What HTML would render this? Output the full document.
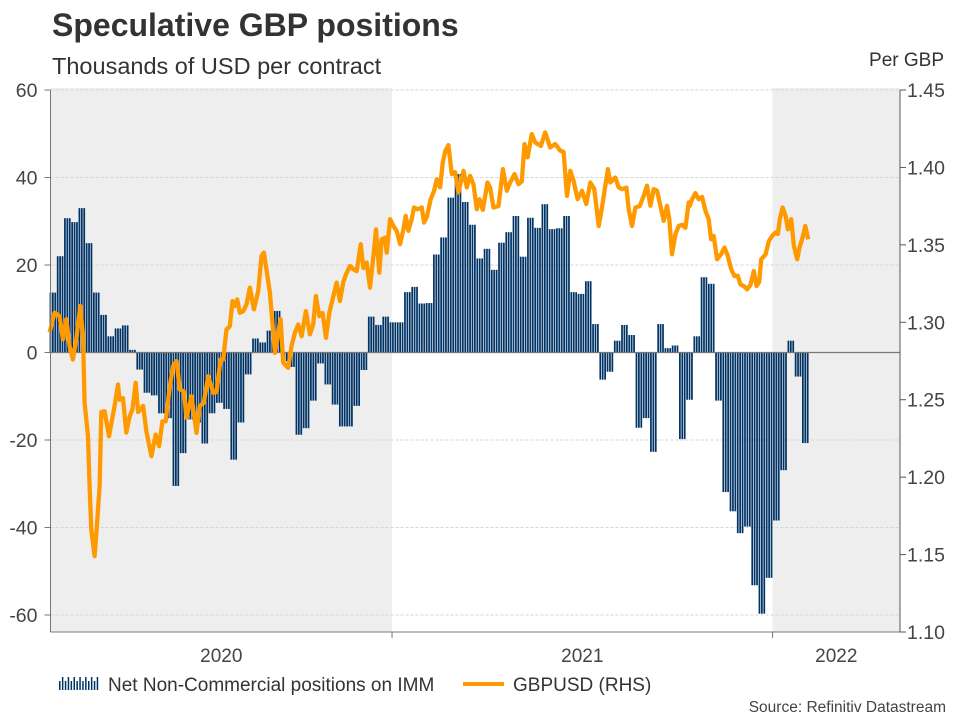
<!DOCTYPE html>
<html><head><meta charset="utf-8"><style>
body{margin:0;background:#fff;width:960px;height:720px;overflow:hidden;font-family:"Liberation Sans",Arial,sans-serif;}
svg text{font-family:"Liberation Sans",Arial,sans-serif;}
</style></head><body>
<svg id="chart" width="960" height="720" xmlns="http://www.w3.org/2000/svg">
<text x="52" y="36" font-size="32" font-weight="bold" fill="#333">Speculative GBP positions</text>
<text x="52" y="74" font-size="23.5" fill="#333">Thousands of USD per contract</text>
<text x="944" y="66" font-size="19" fill="#333" text-anchor="end">Per GBP</text>
<g id="plot"></g>
<g>
<g id="legicon"></g>
<text x="108" y="691" font-size="19" fill="#333">Net Non-Commercial positions on IMM</text>
<line x1="463" y1="684" x2="504" y2="684" stroke="#ff9900" stroke-width="4"/>
<text x="513" y="691" font-size="19" fill="#333">GBPUSD (RHS)</text>
</g>
<text x="946" y="712" font-size="15.5" fill="#444" text-anchor="end">Source: Refinitiv Datastream</text>
</svg>
<script>
// Weekly net positions (thousands USD per contract), first week ~Feb 7 2020
const posStartDay = 37.5;
const posWeekDays = 6.94;
const positions = [13.7,22,30.7,29.8,33,25,13.7,8.6,3.7,5.5,6.2,0.6,-3.9,-9.2,-9.8,-13.9,-15,-30.5,-23,-15.3,-16,-20.8,-13.9,-11.5,-12.9,-24.5,-16,-5,3.2,2.3,5,
9.5,-2,-3.3,-18.8,-17.3,-11,-2.5,-7.3,-11.9,-16.9,-16.9,-12.2,-4,8.2,6.3,8.2,6.9,6.9,13.8,15,11.2,11.3,22.4,26.3,35.4,40.8,34.4,29.2,21.5,
23.7,18.9,25.1,27.5,31.2,21.9,30.8,28.5,33.9,28.2,28.4,31.2,13.8,13.4,16.3,6.5,-6.2,-4.4,2.7,6.3,4,-17.2,-15,-22.7,6.5,1,1.6,-19.8,-10.8,
3.7,17.2,15.7,-11,-31.9,-36.3,-41.3,-39.8,-53.2,-59.7,-51.5,-38.4,-26.9,2.7,-5.5,-20.7];
// GBPUSD: days since 2020-01-01 and rate
const fxDays = [37.5,42.3,47.1,50.3,53.5,56.7,59.9,63.1,67,69.5,71.1,74.3,75.9,77.5,80.7,82.6,85.5,87.1,90.3,94.5,99.9,103.1,104.7,107.9,111.1,114.3,116.9,120.1,122.4,127.2,130.4,135.2,139.3,142.5,145.7,148.9,152.8,156,159.2,162.4,166.2,168.8,173.6,178.4,181.6,185.4,189.6,194.4,197.6,201.4,204,207.2,210.4,213,215.2,217.5,220,223.2,226.4,229.6,233.5,237.6,240.8,243.1,
248.8,253.6,256.8,259.1,261.6,266.4,269.6,272.8,276,279.2,283.4,287.2,290.4,293,296.2,299.4,302.6,305.8,309,312.8,316,319.2,321.8,325.7,328.9,332.1,335.9,338.5,341.7,344.9,348.1,350.6,353.8,356.1,359.3,360.9,364.1,367.3,370.5,373.7,376.9,379.1,381.7,384.9,387.1,390.3,394.5,396.7,399.3,403.1,406.3,408.9,412.1,414.7,417.2,420.1,423.3,426.5,429.7,434.5,437.7,440.9,444.1,447.3,
449.9,453.1,457.6,460.1,463.3,468.1,472.3,476.1,479.3,483.5,487.3,490.5,493.1,496,500.1,503.3,508.8,512.9,517.7,522.5,527.4,530.6,533.8,537,540.2,544,548.2,552.3,556.2,560,564.2,567.4,570.6,573.1,575.4,580.2,583.4,586.6,590.8,593,596.2,599.4,603.6,607.4,610.6,613.8,617,620.2,623.4,626.6,629.8,632,634.6,637.8,641,644.2,647.4,650.6,
651.6,653.8,657,660.2,663.4,666.6,669.8,672.1,674.6,677.8,681.7,684.9,688.1,691.3,694.5,697.7,700.2,703.4,706.6,709.8,713,715.6,718.2,720.1,724.3,727.5,730.7,733.9,736.1,738,740.6,743.5,745.7,748.9,751.5,754.7,757.2,759.8,762.4,765.2];
const fxRates = [1.2935,1.3062,1.304,1.289,1.302,1.2846,1.276,1.289,1.3105,1.291,1.248,1.2264,1.194,1.166,1.149,1.166,1.194,1.242,1.2426,1.2264,1.246,1.2598,1.25,1.251,1.2288,1.2393,1.2437,1.261,1.242,1.246,1.2296,1.2135,1.2275,1.22,1.236,1.236,1.2587,1.2717,1.275,1.2566,1.2555,1.2383,1.2523,1.2286,1.246,1.248,1.2652,1.2545,1.255,1.276,1.276,1.2954,1.2975,1.3137,1.3105,1.3148,1.3062,1.307,1.3116,1.3224,1.3083,1.32,1.3428,1.345,
1.3191,1.2803,1.2933,1.302,1.2739,1.2706,1.2846,1.2933,1.2986,1.291,1.3072,1.2922,1.2986,1.317,1.304,1.306,1.29,1.3062,1.3148,1.3256,1.3137,1.326,1.331,1.3364,1.3342,1.333,1.3504,1.335,1.3386,1.3224,1.3428,1.36,1.332,1.3536,1.3546,1.345,1.3666,1.3622,1.359,1.3504,1.36,1.3687,1.359,1.3666,1.3741,1.373,1.3741,1.3644,1.368,1.3795,1.3849,1.3924,1.3871,1.4033,1.4108,1.4144,1.3957,1.397,1.3838,1.3978,1.3871,1.3946,1.389,1.373,
1.3795,1.3726,1.3903,1.387,1.3741,1.375,1.3989,1.3849,1.3903,1.3957,1.3892,1.391,1.4151,1.4065,1.4215,1.4161,1.4139,1.4226,1.4129,1.4151,1.4108,1.41,1.3816,1.3978,1.3913,1.3795,1.3849,1.3763,1.3903,1.386,1.3622,1.3741,1.3882,1.3989,1.3903,1.3935,1.3871,1.386,1.387,1.373,1.3622,1.3741,1.375,1.3816,1.3882,1.3752,1.386,1.385,1.3752,1.3655,1.3752,1.3666,1.3439,1.3569,1.3622,1.363,1.361,1.3774,
1.3752,1.3795,1.3834,1.3795,1.381,1.372,1.3666,1.3536,1.3558,1.3407,1.3439,1.3483,1.3428,1.3342,1.3299,1.33,1.3245,1.3234,1.3213,1.324,1.3331,1.3234,1.326,1.3407,1.3439,1.3525,1.3558,1.358,1.357,1.3666,1.3741,1.3687,1.36,1.3666,1.3493,1.3407,1.3493,1.3547,1.3622,1.3536];
const leftTicks = [60,40,20,0,-20,-40,-60];
const rightTicks = ["1.45","1.40","1.35","1.30","1.25","1.20","1.15","1.10"];
const yearLabels = ["2020","2021","2022"];
const yearStartDays = [0,366,731];

const NS="http://www.w3.org/2000/svg";
const PL=50.5, PR=900, PT=90, PB=632;
const xDay = d => 10.5 + d*380.5/365;
const yL = v => 352.5 - v*4.375;
const yR = v => PT + (1.45 - v)*1548.6;
const plot=document.getElementById('plot');
function mk(tag,attrs,parent){const e=document.createElementNS(NS,tag);for(const k in attrs)e.setAttribute(k,attrs[k]);(parent||plot).appendChild(e);return e;}

let s1=mk('rect',{x:PL,y:PT-2,width:xDay(yearStartDays[1])-PL,height:PB-PT+2,fill:'#eeeeee'});


let s2=mk('rect',{x:xDay(yearStartDays[2]),y:PT-2,width:PR-xDay(yearStartDays[2]),height:PB-PT+2,fill:'#eeeeee'});



leftTicks.forEach(v=>{
  const y=yL(v);
  if(v!==0){const g=mk('line',{x1:PL,x2:PR,y1:y,y2:y,stroke:'#d4d4d4','stroke-dasharray':'3,2','stroke-width':1});
  
  }
  const t=mk('line',{x1:PL-6,x2:PL,y1:y,y2:y,stroke:'#777'});
  
  
  const l=mk('text',{x:PL-13,y:y+7,'font-size':19.5,fill:'#444','text-anchor':'end'});
  l.textContent=v;
  
  
});
rightTicks.forEach(s=>{
  const y=yR(parseFloat(s));
  const t=mk('line',{x1:PR,x2:PR+6,y1:y,y2:y,stroke:'#555'});
  
  
  const l=mk('text',{x:PR+7,y:y+7,'font-size':19.5,fill:'#444'});
  l.textContent=s;
  
  
});

positions.forEach((v,i)=>{
  const x0=xDay(posStartDay+i*posWeekDays), x1=xDay(posStartDay+(i+1)*posWeekDays);
  const w=(x1-x0)/3;
  for(let k=0;k<3;k++){
    const y=yL(v), y0=yL(0);
    const b=mk('rect',{x:x0+k*w,y:Math.min(y,y0),width:w*0.72,height:Math.abs(y0-y),fill:'#003366'});
    
    
  }
});
let z=mk('line',{x1:PL,x2:PR,y1:yL(0),y2:yL(0),stroke:'#777','stroke-width':1.2});



let d=fxDays.map((dd,i)=>(i?'L':'M')+xDay(dd).toFixed(1)+','+yR(fxRates[i]).toFixed(1)).join(' ');
let ln=mk('path',{d:d,fill:'none',stroke:'#ff9900','stroke-width':4.3,'stroke-linejoin':'round'});



let la=mk('line',{x1:PL,x2:PL,y1:PT,y2:PB,stroke:'#777'});


let ra=mk('line',{x1:PR,x2:PR,y1:PT,y2:PB,stroke:'#555'});


let ba=mk('line',{x1:PL,x2:PR,y1:PB,y2:PB,stroke:'#777'});


yearLabels.forEach((lab,i)=>{
  const xs=Math.max(PL,xDay(yearStartDays[i]));
  const xe=i<yearLabels.length-1?xDay(yearStartDays[i+1]):PR;
  if(i>0){const t=mk('line',{x1:xs,x2:xs,y1:PB,y2:PB+6,stroke:'#777'});
    
    }
  const l=mk('text',{x:(xs+xe)/2,y:662,'font-size':19,fill:'#444','text-anchor':'middle'});
  l.textContent=lab;
  
  
});
const li=document.getElementById('legicon');
for(let k=0;k<14;k++){
  const h=(k%2)?13:9;
  const r=mk('rect',{x:59+k*2.9,y:690-h,width:1.5,height:h,fill:'#003366'},li);
  
  
}
</script>
</body></html>
